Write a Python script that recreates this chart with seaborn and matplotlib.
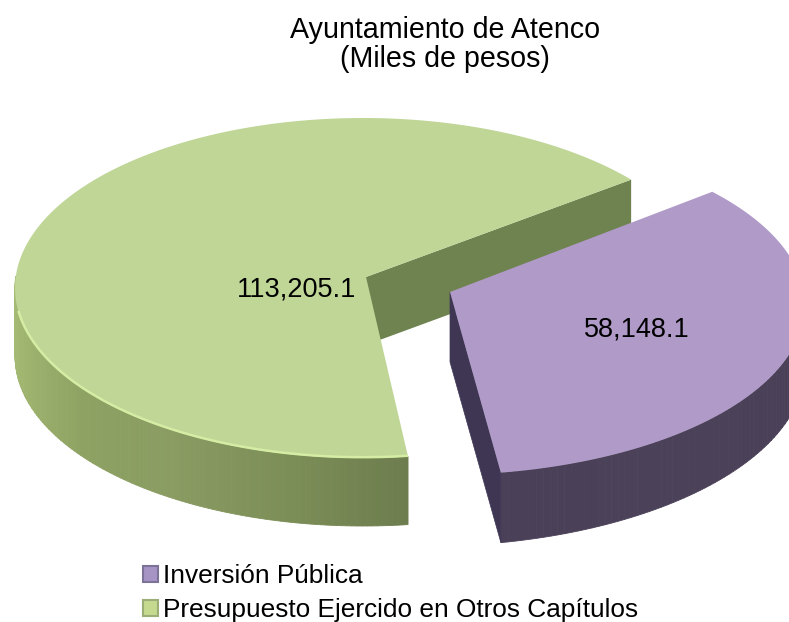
import numpy as np
import matplotlib
matplotlib.use("Agg")
import matplotlib.pyplot as plt
from matplotlib.patches import Patch
import seaborn as sns

categories = ["Inversión Pública", "Presupuesto Ejercido en Otros Capítulos"]
values = [58148.1, 113205.1]
value_labels = ["58,148.1", "113,205.1"]
title_lines = ["Ayuntamiento de Atenco", "(Miles de pesos)"]

sns.set_theme(style="white")
plt.rcParams["font.family"] = ["Liberation Sans", "DejaVu Sans"]

fig, ax = plt.subplots(figsize=(7.89, 6.22), dpi=100)
fig.subplots_adjust(0, 0, 1, 1)
ax.set_xlim(0, 789)
ax.set_ylim(622, 0)
ax.axis("off")

total = sum(values)
sweep_purple = values[0] / total * 360
sweep_green = values[1] / total * 360
GREEN_START = 39.6
PURPLE_START = 279.6
green_end = GREEN_START + sweep_green
purple_end = PURPLE_START + sweep_purple


def arc(cx, cy, a, b, t0, t1, n=240):
    t = np.radians(np.linspace(t0, t1, n))
    return cx + a * np.cos(t), cy - b * np.sin(t)


def wall(cx, cy, a, b, t0, t1, palette, d0, d1):
    steps = len(palette)
    edges = np.linspace(t0, t1, steps + 1)
    depths = np.linspace(d0, d1, steps + 1)
    for i, c in enumerate(palette):
        x, y = arc(cx, cy, a, b, edges[i], edges[i + 1], n=6)
        ax.fill(np.r_[x, x[::-1]],
                np.r_[y, y[::-1] + np.linspace(depths[i + 1], depths[i], 6)],
                color=c, lw=0.6, zorder=2)


# green slice
g_ell = (363, 288, 348, 170)
g_apex = (366, 277)
gx, gy = arc(*g_ell, GREEN_START, green_end)
ax.fill([g_apex[0], gx[0], gx[0], g_apex[0]],
        [g_apex[1], gy[0], gy[0] + 68, g_apex[1] + 68],
        color="#6f8350", lw=0, zorder=1)
wall(*g_ell, 176, green_end,
     sns.blend_palette(["#a9bf78", "#9eb36e", "#8ea263", "#8a9c62", "#7d8f58", "#6d7d4e"], 120),
     68, 68)
ax.fill(np.r_[g_apex[0], gx], np.r_[g_apex[1], gy], color="#bfd696", lw=0, zorder=3)
rx, ry = arc(*g_ell, 188, green_end)
ax.plot(rx, ry - 0.8, color="#d4eca4", lw=1.8, zorder=4, solid_capstyle="butt")

# purple slice, pulled out of the pie
p_ell = (440, 305, 365, 170)
p_apex = (450, 292)
px, py = arc(*p_ell, PURPLE_START, purple_end)
ax.fill([p_apex[0], px[0], px[0], p_apex[0]],
        [p_apex[1], py[0], py[0] + 70, p_apex[1] + 70],
        color="#3f3654", lw=0.5, zorder=5)
wall(*p_ell, PURPLE_START, 372,
     sns.blend_palette(["#4a4158", "#4b4259", "#4a4058", "#453b52"], 80), 70, 60)
ax.fill(np.r_[p_apex[0], px], np.r_[p_apex[1], py], color="#b09ac8", lw=0, zorder=6)

# labels
ax.text(297, 289, value_labels[1], ha="center", va="center", fontsize=19.5, color="black", zorder=8)
ax.text(637, 330, value_labels[0], ha="center", va="center", fontsize=19.5, color="black", zorder=8)
ax.text(445, 30, title_lines[0], ha="center", va="center", fontsize=20.6, color="black")
ax.text(445, 59, title_lines[1], ha="center", va="center", fontsize=20.6, color="black")

# legend
handles = [Patch(facecolor="#a594c4", edgecolor="#7d7399", lw=1.5),
           Patch(facecolor="#c5d98f", edgecolor="#9cae78", lw=1.5)]
ax.legend(handles, categories, loc="upper left", bbox_to_anchor=(143, 564),
          bbox_transform=ax.transData, frameon=False, fontsize=18.9,
          labelcolor="black",
          handlelength=0.58, handleheight=0.58, handletextpad=0.2,
          labelspacing=0.39, borderpad=0, borderaxespad=0)

fig.savefig("out.png", dpi=100, facecolor="white")
